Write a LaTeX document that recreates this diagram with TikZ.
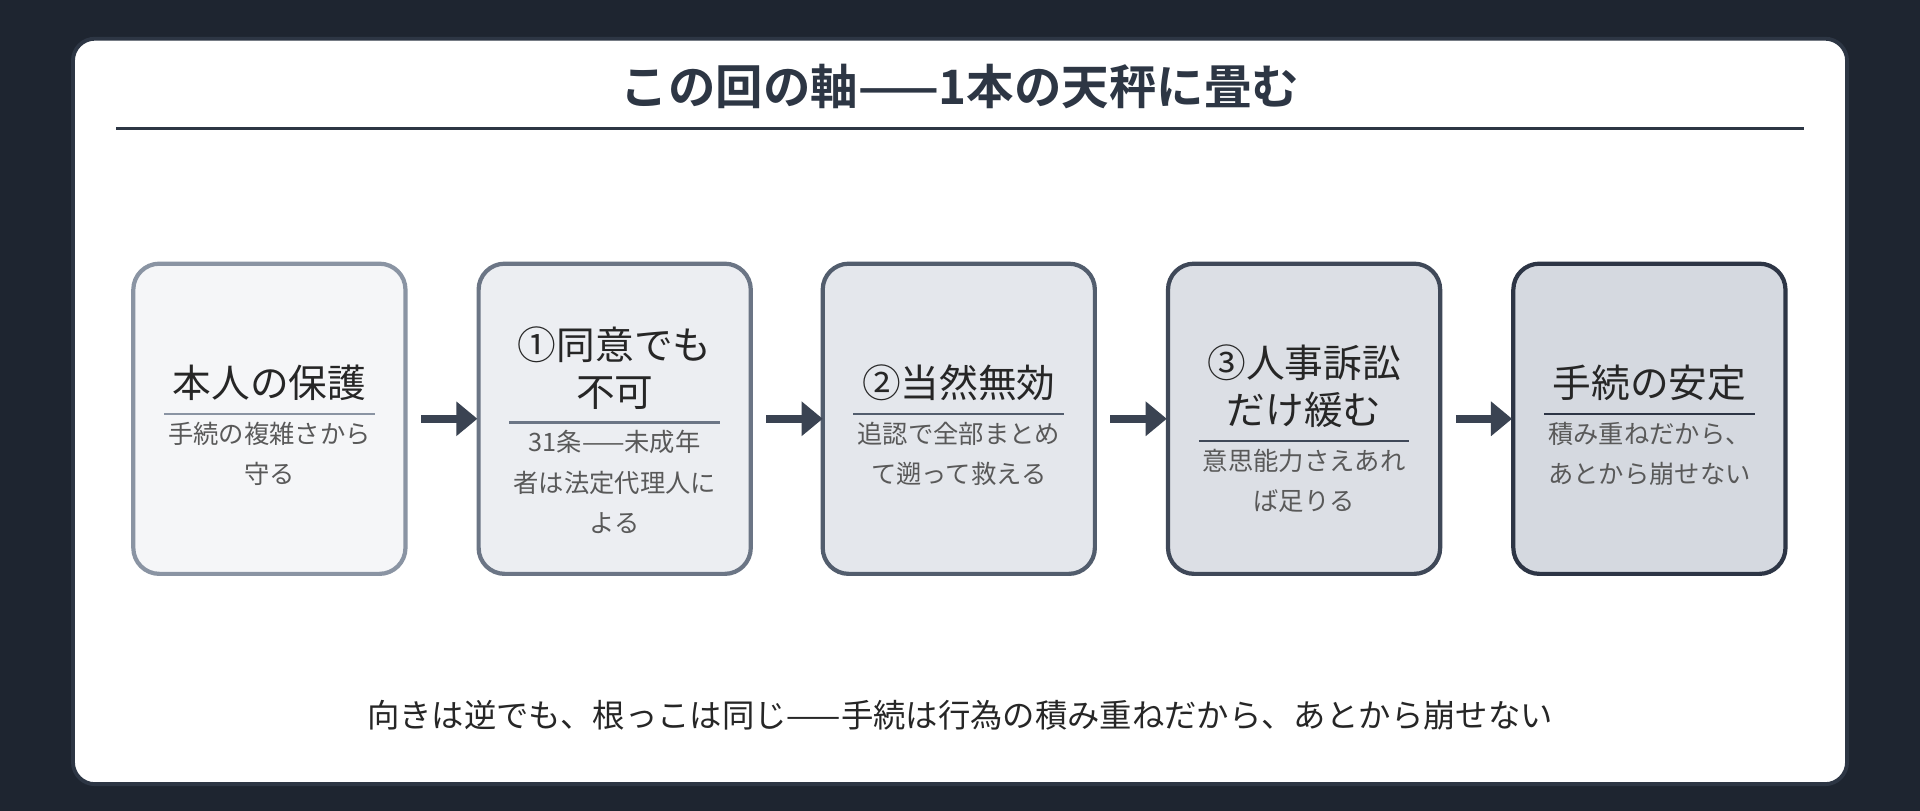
\documentclass[tikz,border=0pt]{standalone}
\usepackage{fontspec}
\setmainfont{Noto Sans CJK JP}[BoldFont={Noto Sans CJK JP Bold}]
\usetikzlibrary{positioning, arrows.meta}
\definecolor{bgdark}{HTML}{1E2530}
\definecolor{inkdark}{HTML}{2D3644}
\definecolor{arrowc}{HTML}{3A4352}

\begin{document}
\begin{tikzpicture}
    [
        x=0.012245cm, y=-0.012245cm,
        step_box/.style={draw=#1, rounded corners=2.6mm, line width=1.2pt, minimum width=2.72cm, minimum height=3.1cm},
        head_text/.style={font=\fontsize{11pt}{13.5pt}\selectfont, text=black!85, align=center, inner sep=0pt},
        sub_text/.style={font=\fontsize{7.2pt}{11.5pt}\selectfont, text=black!65, align=center, inner sep=0pt},
        step_arrow/.style={-{Triangle[length=6pt, width=9.5pt]}, line width=2.3pt, color=arrowc},
    ]
        \fill[bgdark] (0,0) rectangle (1568,662);
        \node[draw=inkdark, fill=white, line width=1.1pt, rounded corners=2.2mm, minimum width=17.73cm, minimum height=7.45cm] (card) at (784,336) {};
        \node[font=\bfseries\fontsize{13.5pt}{16pt}\selectfont, text=inkdark] (title) at (784,71) {この回の軸——1本の天秤に畳む};
        \draw[inkdark, line width=0.8pt] (95,105) -- (1473,105);
        % five steps
        \foreach \i/\cx/\bc/\fc/\ly/\hd/\sb in {
            1/220/8A94A3/F5F6F8/338/{本人の保護}/{手続の複雑さから\\守る},
            2/502/6B7585/ECEEF2/345/{①同意でも\\不可}/{31条——未成年\\者は法定代理人に\\よる},
            3/783/525D6D/E4E7EC/338/{②当然無効}/{追認で全部まとめ\\て遡って救える},
            4/1065/3F4858/DCDFE5/360/{③人事訴訟\\だけ緩む}/{意思能力さえあれ\\ば足りる},
            5/1347/2D3545/D5D9E0/338/{手続の安定}/{積み重ねだから、\\あとから崩せない}}
        {
            \definecolor{bc\i}{HTML}{\bc}
            \definecolor{fc\i}{HTML}{\fc}
            \node[step_box=bc\i, fill=fc\i] (box\i) at (\cx,342) {};
            \node[head_text, anchor=south] (head\i) at (\cx,\ly-10) {\hd};
            \draw[bc\i, line width=0.6pt] (\cx-86,\ly) -- (\cx+86,\ly);
            \node[sub_text, anchor=north] (sub\i) at (\cx,\ly+6) {\sb};
        }
        \foreach \a/\b in {1/2, 2/3, 3/4, 4/5}
            \draw[step_arrow] (box\a.east) ++(11,0) -- ++(46,0);
        \node[font=\fontsize{9.2pt}{11pt}\selectfont, text=black!85] (summary) at (784,584) {向きは逆でも、根っこは同じ——手続は行為の積み重ねだから、あとから崩せない};
    \end{tikzpicture}
\end{document}
